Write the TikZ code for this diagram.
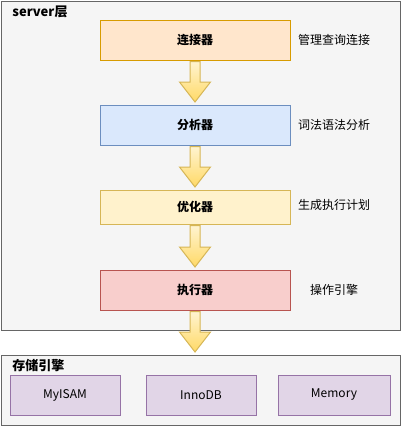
\documentclass[tikz,border=0pt]{standalone}
\usepackage{fontspec}
\setmainfont{Noto Sans CJK SC}
\usetikzlibrary{calc}

\definecolor{panelfill}{HTML}{F5F5F5}
\definecolor{paneldraw}{HTML}{666666}
\definecolor{connfill}{HTML}{FFE6CC}
\definecolor{conndraw}{HTML}{D79B00}
\definecolor{parsefill}{HTML}{DAE8FC}
\definecolor{parsedraw}{HTML}{6C8EBF}
\definecolor{optfill}{HTML}{FFF2CC}
\definecolor{optdraw}{HTML}{D6B656}
\definecolor{execfill}{HTML}{F8CECC}
\definecolor{execdraw}{HTML}{B85450}
\definecolor{enginefill}{HTML}{E1D5E7}
\definecolor{enginedraw}{HTML}{9673A6}
\definecolor{arrowtop}{HTML}{FFF4D0}
\definecolor{arrowbottom}{HTML}{FFD966}

% block arrow from the bottom of one node to the top of the next
\newcommand\flowarrow[2]{%
  \path[flow] let \p1=(#1.south), \p2=(#2.north) in
    (\x1-5pt,\y1-1pt) -- (\x1+5pt,\y1-1pt) -- (\x1+5pt,\y2+22.5pt)
    -- (\x1+15.5pt,\y2+22.5pt) -- (\x1,\y2+2.5pt)
    -- (\x1-15.5pt,\y2+22.5pt) -- (\x1-5pt,\y2+22.5pt) -- cycle;}

\begin{document}
\begin{tikzpicture}[x=1pt, y=-1pt, line width=1pt,
  panel/.style={draw=paneldraw, fill=panelfill, inner sep=0pt},
  stage/.style={minimum width=190pt, minimum height=40pt, inner sep=0pt,
    font=\fontsize{12}{14}\selectfont\bfseries},
  engine/.style={draw=enginedraw, fill=enginefill, minimum height=40pt,
    inner sep=0pt, font=\fontsize{12}{14}\selectfont},
  note/.style={font=\fontsize{12}{14}\selectfont},
  title/.style={anchor=west, inner sep=2pt, font=\fontsize{13}{15}\selectfont\bfseries},
  flow/.style={draw=optdraw, top color=arrowtop, bottom color=arrowbottom}]

\useasboundingbox (0,0) rectangle (401,426);

% ---------------------------
% Containers
% ---------------------------
\node[panel, minimum width=399pt, minimum height=329pt] (server) at (200.5,165.5) {};
\node[panel, minimum width=399pt, minimum height=70pt] (storage) at (200.5,390) {};

\node[title] (servertitle) at (10,12) {server层};
\node[title] (storagetitle) at (10,366) {存储引擎};

% ---------------------------
% Server layer stages
% ---------------------------
\node[stage, draw=conndraw, fill=connfill]   (conn)   at (195,40)  {连接器};
\node[stage, draw=parsedraw, fill=parsefill] (parser) at (195,125) {分析器};
\node[stage, draw=optdraw, fill=optfill, minimum height=34pt] (opt) at (195,207) {优化器};
\node[stage, draw=execdraw, fill=execfill]   (exec)   at (195,290) {执行器};

% notes on the right
\node[note] (connnote)   at (334,40)  {管理查询连接};
\node[note] (parsernote) at (334,125) {词法语法分析};
\node[note] (optnote)    at (334,205) {生成执行计划};
\node[note] (execnote)   at (334,290) {操作引擎};

% ---------------------------
% Storage engines
% ---------------------------
\node[engine, minimum width=110pt] (myisam) at (65,395)  {MyISAM};
\node[engine, minimum width=110pt] (innodb) at (201,395) {InnoDB};
\node[engine, minimum width=112pt] (memory) at (334,395) {Memory};

% ---------------------------
% Flow arrows
% ---------------------------
\flowarrow{conn}{parser}
\flowarrow{parser}{opt}
\flowarrow{opt}{exec}
\flowarrow{exec}{storage}

\end{tikzpicture}
\end{document}
